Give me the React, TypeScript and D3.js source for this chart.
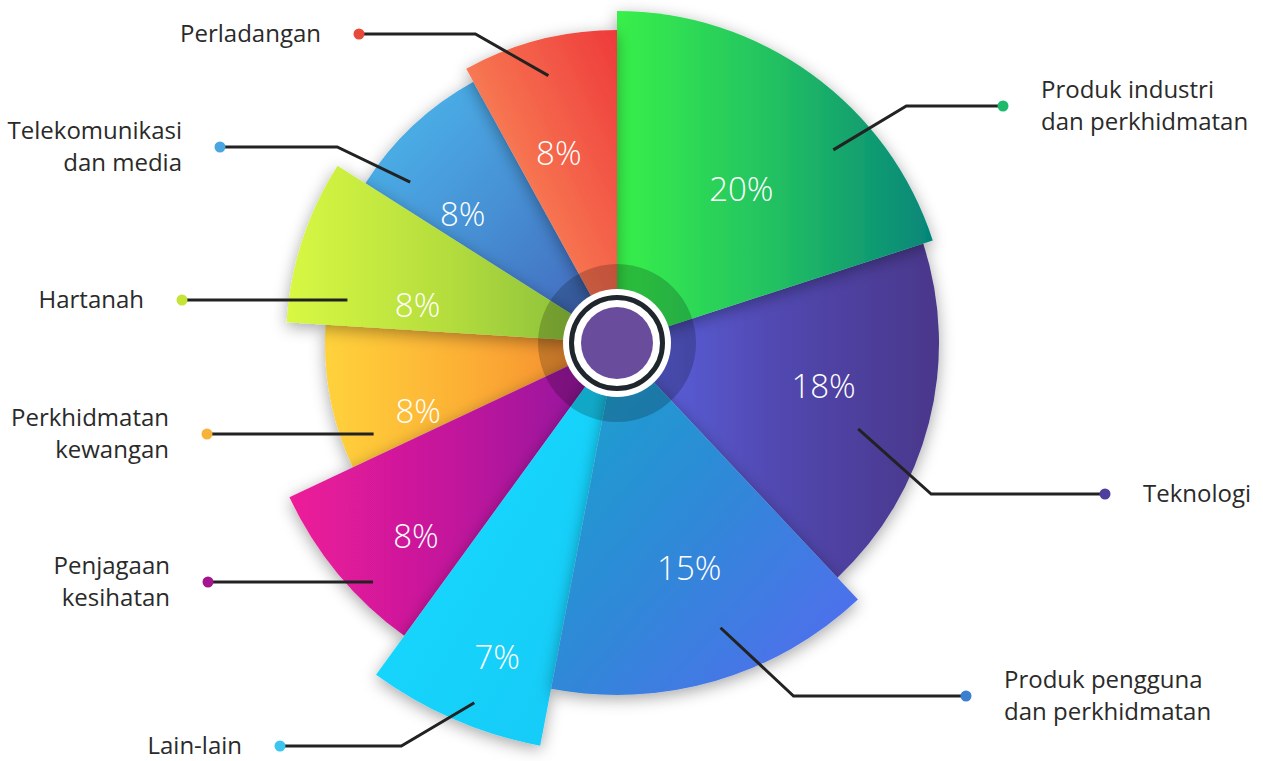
import React from 'react';
import * as d3 from 'd3';

// sector data, clockwise from 12 o'clock
const categories = [
  'Produk industri dan perkhidmatan',
  'Teknologi',
  'Produk pengguna dan perkhidmatan',
  'Lain-lain',
  'Penjagaan kesihatan',
  'Perkhidmatan kewangan',
  'Hartanah',
  'Telekomunikasi dan media',
  'Perladangan',
];
const shares = [20, 18, 15, 7, 8, 8, 8, 8, 8];

const labelLines = [
  ['Produk industri', 'dan perkhidmatan'],
  ['Teknologi'],
  ['Produk pengguna', 'dan perkhidmatan'],
  ['Lain-lain'],
  ['Penjagaan', 'kesihatan'],
  ['Perkhidmatan', 'kewangan'],
  ['Hartanah'],
  ['Telekomunikasi', 'dan media'],
  ['Perladangan'],
];

// layout (not data): how far each wedge reaches, paint order, colours
const wedgeRadius = [332, 322, 352, 410, 362, 292, 331, 298, 313];
const paintOrder = [1, 5, 4, 3, 2, 7, 6, 0, 8];
const gradients = [
  { x2: 1, y2: 0, stops: ['#38F04A', '#22C062', '#05857A'] },
  { x2: 1, y2: 0, stops: ['#5C66E6', '#5148B0', '#4A378A'] },
  { x2: 1, y2: 1, stops: ['#16A6CB', '#3088D8', '#5868F2'] },
  { x2: 1, y2: 1, stops: ['#18DEFE', '#15D3FB', '#12C8F6'] },
  { x2: 1, y2: 0, stops: ['#EE1B99', '#C2189C', '#8A179F'] },
  { x2: 1, y2: 0, stops: ['#FFD23B', '#FCAE35', '#F3822E'] },
  { x2: 1, y2: 0, stops: ['#D8F843', '#B3DC3D', '#7EB73A'] },
  { x2: 1, y2: 1, stops: ['#4DBBEE', '#4690D4', '#4260B8'] },
  { x1: 0, y1: 1, x2: 1, y2: 0, stops: ['#FFB272', '#F6714F', '#EE3A3B'] },
];
const dotColors = ['#1CBA6A', '#4E3F9E', '#3B7FCF', '#3CC5EF', '#A4168F', '#F7B23A', '#C5E436', '#4AA6E0', '#E8493A'];
// percent labels: fraction across the wedge and distance from centre
const pctAt = [[0.54, 198], [0.46, 211], [0.47, 236], [0.4, 336], [0.35, 279], [0.22, 210], [0.25, 203], [0.26, 201], [0.41, 199]];
// callouts: anchor inside wedge (fraction, radius) and dot position
const anchorAt = [[0.67, 290], [0.58, 256], [0.43, 303], [0.43, 387], [0.33, 342], [0.16, 260], [0.19, 273], [0.19, 262], [0.5, 276]];
const dotAt = [[1003, 106], [1105, 494], [966, 696], [280, 746], [208, 582], [207, 434], [182, 300], [220, 147], [359, 34]];

const W = 1263;
const H = 761;
const cx = 617;
const cy = 343;
const font = "'Open Sans', 'Noto Sans', sans-serif";

const polar = (a: number, r: number): [number, number] => [cx + r * Math.sin(a), cy - r * Math.cos(a)];

const App = () => {
  const pie = d3.pie<number>().sort(null).value(d => d)(shares);

  const slices = pie.map((p, i) => {
    const arc = d3.arc<d3.PieArcDatum<number>>().innerRadius(0).outerRadius(wedgeRadius[i]);
    return { p, i, path: arc(p) as string };
  });

  return (
    <svg width={W} height={H} style={{ position: 'absolute', left: 0, top: 0 }}>
      <defs>
        <filter id="sh" x="-40%" y="-40%" width="180%" height="180%">
          <feDropShadow dx="0" dy="4" stdDeviation="8" floodColor="#000" floodOpacity="0.35" />
        </filter>
        {gradients.map((g, i) => (
          <linearGradient key={i} id={`g${i}`} x1={g.x1 ?? 0} y1={g.y1 ?? 0} x2={g.x2} y2={g.y2}>
            {g.stops.map((c, k) => (
              <stop key={k} offset={k / (g.stops.length - 1)} stopColor={c} />
            ))}
          </linearGradient>
        ))}
      </defs>

      <rect width={W} height={H} fill="#fff" />

      <g transform={`translate(${cx},${cy})`}>
        {paintOrder.map(i => (
          <path key={i} d={slices[i].path} fill={`url(#g${i})`} filter="url(#sh)" />
        ))}
      </g>

      {/* centre hub */}
      <circle cx={cx} cy={cy} r={79} fill="#000" opacity={0.2} />
      <circle cx={cx} cy={cy} r={54} fill="#fff" />
      <circle cx={cx} cy={cy} r={45.5} fill="none" stroke="#1F272D" strokeWidth={5} />
      <circle cx={cx} cy={cy} r={36} fill="#6A4C9D" />

      {/* percent labels */}
      {pie.map((p, i) => {
        const a = p.startAngle + pctAt[i][0] * (p.endAngle - p.startAngle);
        const [x, y] = polar(a, pctAt[i][1]);
        return (
          <text key={i} x={x} y={y} dy="0.36em" textAnchor="middle" fill="#fff"
            fontFamily={font} fontWeight={300} fontSize={33}>
            {`${shares[i]}%`}
          </text>
        );
      })}

      {/* callouts */}
      {pie.map((p, i) => {
        const a = p.startAngle + anchorAt[i][0] * (p.endAngle - p.startAngle);
        const [ax, ay] = polar(a, anchorAt[i][1]);
        const [dx, dy] = dotAt[i];
        const right = dx > cx;
        const dir = right ? 1 : -1;
        const pts: [number, number][] = Math.abs(ay - dy) < 4
          ? [[dx, dy], [ax, dy]]
          : [[dx, dy], [ax + dir * 73, dy], [ax, ay]];
        const lines = labelLines[i];
        const tx = dx + dir * 38;
        return (
          <g key={i}>
            <path d={d3.line()(pts) as string} fill="none" stroke="#222" strokeWidth={3} />
            <circle cx={dx} cy={dy} r={5.5} fill={dotColors[i]} />
            <text x={tx} textAnchor={right ? 'start' : 'end'} fill="#2a2a2a" fontFamily={font} fontSize={24}>
              {lines.map((s, k) => (
                <tspan key={k} x={tx} y={dy + (k - (lines.length - 1) / 2) * 32} dy="0.35em">{s}</tspan>
              ))}
            </text>
          </g>
        );
      })}
    </svg>
  );
};

export default App;
